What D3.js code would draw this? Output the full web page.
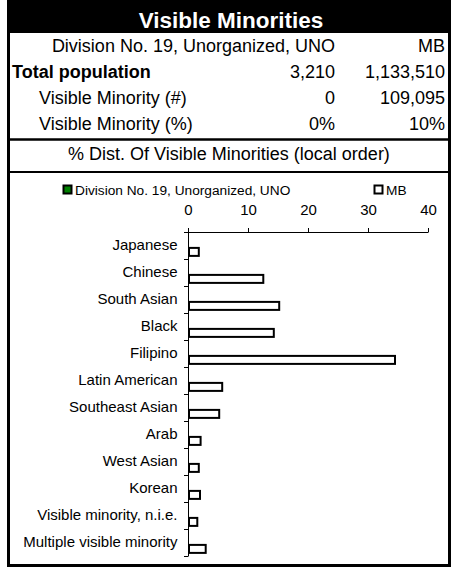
<!DOCTYPE html>
<html>
<head>
<meta charset="utf-8">
<script src="https://cdn.jsdelivr.net/npm/d3@7"></script>
<style>
  body { margin: 0; background: #fff; }
  svg { display: block; font-family: "Liberation Sans", Arial, sans-serif; }
</style>
</head>
<body>
<svg id="chart" width="457" height="568"></svg>
<script>
const title = "Visible Minorities";
const columnHeads = ["Division No. 19, Unorganized, UNO", "MB"];
const rowLabels = ["Total population", "Visible Minority (#)", "Visible Minority (%)"];
const localValues = ["3,210", "0", "0%"];
const mbSummary = ["1,133,510", "109,095", "10%"];
const subtitle = "% Dist. Of Visible Minorities (local order)";

const categories = ["Japanese", "Chinese", "South Asian", "Black", "Filipino", "Latin American",
  "Southeast Asian", "Arab", "West Asian", "Korean", "Visible minority, n.i.e.", "Multiple visible minority"];
const seriesNames = ["Division No. 19, Unorganized, UNO", "MB"];
const divisionValues = [0, 0, 0, 0, 0, 0, 0, 0, 0, 0, 0, 0];
const mbValues = [1.8, 12.55, 15.2, 14.3, 34.5, 5.7, 5.2, 2.1, 1.8, 2.0, 1.55, 2.95];
const xTicks = [0, 10, 20, 30, 40];
const seriesColors = ["#008000", "#ffffff"];

const svg = d3.select("#chart");

// Frame
svg.append("rect").attr("x", 7).attr("y", 0).attr("width", 444).attr("height", 33).attr("fill", "#000");
svg.append("rect").attr("x", 8.5).attr("y", 1).attr("width", 441).attr("height", 564.5)
  .attr("fill", "none").attr("stroke", "#000").attr("stroke-width", 3);
svg.append("line").attr("x1", 8).attr("x2", 450).attr("y1", 139.5).attr("y2", 139.5)
  .attr("stroke", "#000").attr("stroke-width", 2.5);
svg.append("line").attr("x1", 8).attr("x2", 450).attr("y1", 172).attr("y2", 172)
  .attr("stroke", "#000").attr("stroke-width", 2);

// Header texts
svg.append("text").attr("x", 231).attr("y", 28).attr("text-anchor", "middle")
  .attr("fill", "#fff").attr("font-weight", "bold").attr("font-size", "22.5px").text(title);

const colRight = [335, 445];
columnHeads.forEach((t, i) => {
  svg.append("text").attr("x", colRight[i]).attr("y", 52).attr("text-anchor", "end")
    .attr("font-size", "18px").text(t);
});
const rowY = [78, 104, 130];
const rowX = [12, 39, 39];
rowLabels.forEach((t, i) => {
  svg.append("text").attr("x", rowX[i]).attr("y", rowY[i]).attr("font-size", "18px")
    .attr("font-weight", i === 0 ? "bold" : "normal").text(t);
  svg.append("text").attr("x", colRight[0]).attr("y", rowY[i]).attr("text-anchor", "end")
    .attr("font-size", "18px").text(localValues[i]);
  svg.append("text").attr("x", colRight[1]).attr("y", rowY[i]).attr("text-anchor", "end")
    .attr("font-size", "18px").text(mbSummary[i]);
});
svg.append("text").attr("x", 229).attr("y", 160).attr("text-anchor", "middle")
  .attr("font-size", "18px").text(subtitle);

// Legend
const legendX = [63, 374];
seriesNames.forEach((n, i) => {
  svg.append("rect").attr("x", legendX[i] + 0.5).attr("y", 185.5).attr("width", 8).attr("height", 8)
    .attr("fill", seriesColors[i]).attr("stroke", "#000").attr("stroke-width", 2);
  svg.append("text").attr("x", legendX[i] + 12).attr("y", 195).attr("font-size", "13.7px").text(n);
});

// Scales
const x = d3.scaleLinear().domain([0, 40]).range([188, 428]);
const y = d3.scaleBand().domain(categories).range([232, 556]).paddingInner(0).paddingOuter(0);
const ySub = d3.scaleBand().domain(seriesNames).range([0, y.bandwidth()])
  .paddingInner(0).paddingOuter(0.35).align(0.7);

// Top axis
const xAxis = d3.axisTop(x).tickValues(xTicks).tickSize(4).tickPadding(13);
const gx = svg.append("g").attr("transform", "translate(0,232)").call(xAxis);
gx.select(".domain").attr("stroke", "#000").attr("d", "M184,0.5H428.5");
gx.selectAll(".tick line").attr("stroke", "#000");
gx.selectAll(".tick text").attr("font-size", "15px").attr("font-family", "Liberation Sans, Arial, sans-serif")
  .attr("fill", "#000");

// Left axis
const gy = svg.append("g").attr("transform", "translate(188.5,0)")
  .call(d3.axisLeft(y).tickSize(0).tickPadding(11));
gy.select(".domain").attr("stroke", "#000").attr("d", `M0,${y.range()[0]}V${y.range()[1]}`);
gy.selectAll(".tick text").attr("font-size", "15px").attr("font-family", "Liberation Sans, Arial, sans-serif")
  .attr("fill", "#000");
const boundaries = categories.map(c => y(c)).concat([y.range()[1]]);
gy.selectAll(".bound").data(boundaries).enter().append("line").attr("class", "bound")
  .attr("x1", -4.5).attr("x2", 0).attr("y1", d => Math.round(d) + 0.5).attr("y2", d => Math.round(d) + 0.5)
  .attr("stroke", "#000");

// Bars
const rows = categories.map((c, i) => ({cat: c, vals: [divisionValues[i], mbValues[i]]}));
const groups = svg.append("g").selectAll("g").data(rows).enter().append("g")
  .attr("transform", d => `translate(0,${y(d.cat)})`);
groups.selectAll("rect").data(d => d.vals.map((v, j) => ({v, s: seriesNames[j], j})))
  .enter().append("rect")
  .attr("x", x(0) + 1)
  .attr("y", d => ySub(d.s) + 1)
  .attr("width", d => Math.max(0, x(d.v) - x(0) - 1))
  .attr("height", d => ySub.bandwidth() - 2)
  .attr("fill", d => seriesColors[d.j])
  .attr("stroke", "#000").attr("stroke-width", 2);
</script>
</body>
</html>
